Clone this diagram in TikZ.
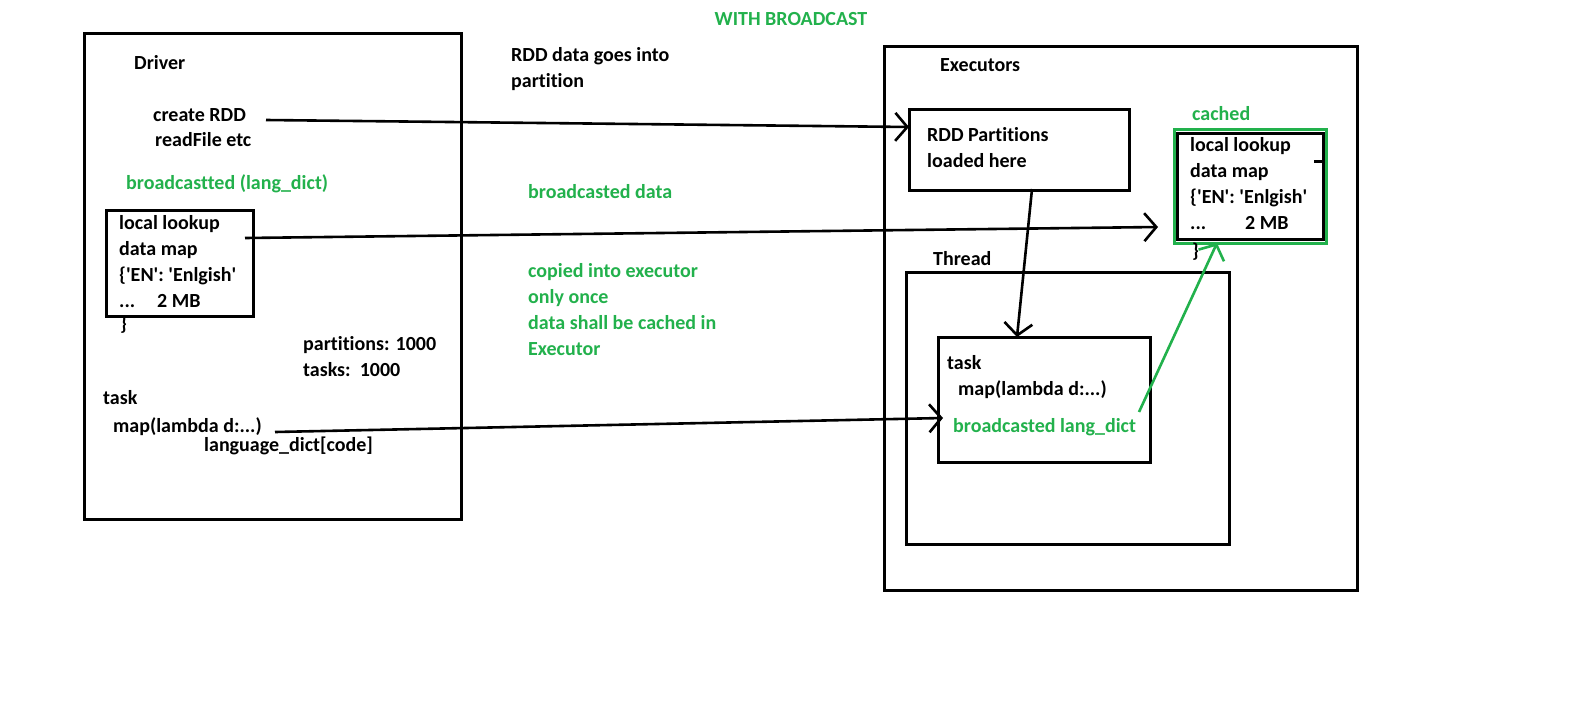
\documentclass[tikz,border=0pt]{standalone}
\usepackage{fontspec}
\setmainfont{Carlito}[Ligatures={TeXOff,NoCommon}]
\usetikzlibrary{arrows.meta}
\definecolor{pgreen}{RGB}{34,177,76}
\begin{document}
\begin{tikzpicture}[x=1pt,y=-1pt,
  box/.style={draw,line width=3pt,rectangle,inner sep=0pt,anchor=north west},
  txt/.style={font=\fontsize{20}{26}\selectfont\bfseries,inner sep=0pt,anchor=base west,align=left},
  gtxt/.style={txt,text=pgreen},
  conn/.style={line width=2.6pt,-{Straight Barb[length=12pt,width=28pt,line width=2.6pt]}},
]
\useasboundingbox[fill=white] (0,0) rectangle (1594,723);

\node[gtxt,anchor=base] (title) at (791,25) {WITH BROADCAST};

% Driver
\node[box,minimum width=377pt,minimum height=486pt] (driver) at (83,32) {};
\node[txt] (drv) at (134,69) {Driver};
\node[txt] (crdd) at (153,121) {create RDD};
\node[txt] (rf) at (155,146) {readFile etc};
\node[gtxt] (bcl) at (126,189) {broadcastted (lang\_dict)};
\node[box,minimum width=147pt,minimum height=106pt] (lookup) at (105,209) {};
\node[txt] (lkt) at (119,307) {local lookup\\data map\\\{'EN': 'Enlgish'\\\makebox[38pt][l]{...}2 MB};
\node[txt] (brace1) at (120,330) {\}};
\node[txt] (parts) at (303,376) {partitions: 1000\\tasks:\ \ 1000};
\node[txt] (dtask) at (103,404) {task};
\node[txt] (dmap) at (113,432) {map(lambda d:...)};
\node[txt] (ldict) at (204,451) {language\_dict[code]};

% middle texts
\node[txt] (rddgo) at (511,87) {RDD data goes into\\partition};
\node[gtxt] (bdata) at (528,198) {broadcasted data};
\node[gtxt] (copied) at (528,355) {copied into executor\\only once\\data shall be cached in\\Executor};

% Executors
\node[box,minimum width=473pt,minimum height=544pt] (exec) at (883,45) {};
\node[txt] (exl) at (940,71) {Executors};
\node[box,minimum width=220pt,minimum height=81pt] (rddbox) at (908,108) {};
\node[txt] (rddt) at (927,167) {RDD Partitions\\loaded here};
\node[txt] (thl) at (933,265) {Thread};
\node[box,minimum width=323pt,minimum height=272pt] (thread) at (905,271) {};
\node[box,minimum width=212pt,minimum height=125pt] (taskbox) at (937,336) {};
\node[txt] (ttask) at (947,369) {task};
\node[txt] (tmap) at (958,395) {map(lambda d:...)};
\node[gtxt] (tbl) at (953,432) {broadcasted lang\_dict};

\node[gtxt] (cachedl) at (1192,120) {cached};
\node[box,draw=pgreen,line width=3pt,minimum width=152pt,minimum height=114pt] (cachedg) at (1173,128) {};
\node[box,minimum width=146pt,minimum height=106pt] (cached) at (1176,132) {};
\coordinate (tk1) at (1314,161); \coordinate (tk2) at (1322,161);
\draw[line width=3pt] (tk1) -- (tk2);
\node[txt] (ckt) at (1190,229) {local lookup\\data map\\\{'EN': 'Enlgish'\\\makebox[55pt][l]{...}2 MB};
\node[txt] (brace2) at (1192,257) {\}};

% connectors
\coordinate (a1) at (266,120); \coordinate (a2) at (909,127);
\draw[conn] (a1) -- (a2);
\coordinate (b1) at (245,238); \coordinate (b2) at (1158,227);
\draw[conn] (b1) -- (b2);
\coordinate (c1) at (275,432); \coordinate (c2) at (943,418);
\draw[conn] (c1) -- (c2);
\coordinate (d1) at (1032,189); \coordinate (d2) at (1017,337);
\draw[conn] (d1) -- (d2);
\coordinate (e1) at (1139,412); \coordinate (e2) at (1217,243);
\draw[conn,draw=pgreen] (e1) -- (e2);
\end{tikzpicture}
\end{document}
